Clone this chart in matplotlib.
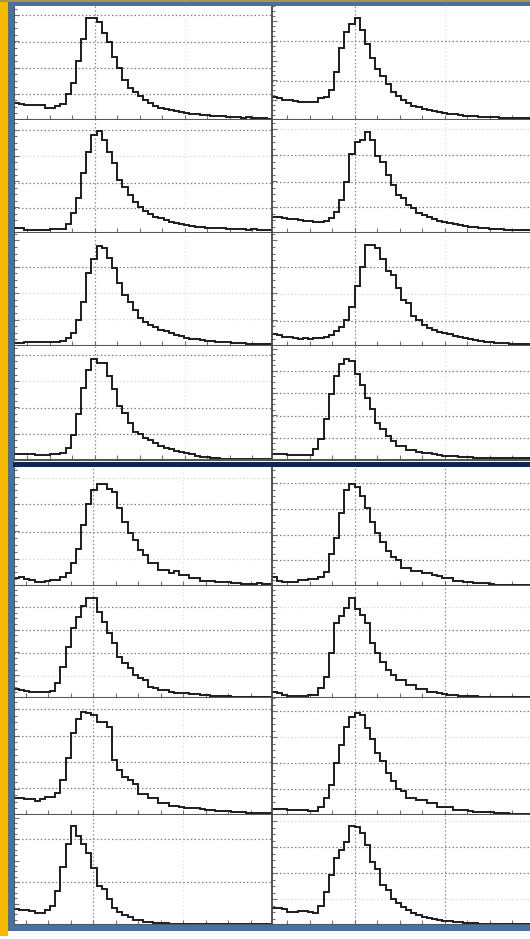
import numpy as np
import matplotlib
matplotlib.use("Agg")
import matplotlib.pyplot as plt
from matplotlib.patches import Rectangle
from matplotlib.ticker import MultipleLocator

# ---- histogram bin heights (50 bins per panel) ----
tl1 = [17,16,15,15,15,15,12,12,14,16, 26,37,59,81,102,102,98,87,78,63,
       52,40,32,28,24,20,17,14,12,11, 10,9,8,7,6,6,5,5,4,4, 4,3,3,3,2,3,2,2,2,1]
tr1 = [23,22,20,20,19,18,18,18,18,22, 23,30,48,72,88,96,102,90,76,62,
       51,44,36,28,24,20,17,14,13,11, 10,9,8,7,6,6,5,4,4,4, 3,3,3,3,2,2,2,2,2,2]
tl2 = [5,5,3,3,3,3,3,4,4,4, 9,20,35,60,81,98,102,93,81,70,
       53,46,38,31,26,22,19,16,15,13, 11,10,9,8,7,6,6,5,5,5, 5,4,4,4,4,3,4,3,3,3]
tr2 = [16,16,15,14,14,13,12,12,11,11, 12,15,21,33,51,79,91,93,101,93,
       77,71,58,48,38,35,28,25,20,18, 16,14,12,11,10,9,8,7,6,6, 5,5,4,4,4,3,3,3,3,3]
tl3 = [3,3,4,4,4,4,4,4,4,5, 8,13,26,44,73,87,100,98,88,78,
       63,51,44,36,28,24,21,19,16,15, 13,11,10,8,7,7,6,5,5,4, 4,4,3,3,3,2,2,2,2,2]
tr3 = [12,11,9,9,8,7,8,7,8,8, 9,11,15,19,26,39,60,79,101,101,
       98,87,75,71,58,46,43,30,26,21, 18,16,14,13,12,10,9,8,7,6, 5,4,4,3,3,3,2,2,2,2]
tl4 = [6,6,6,6,5,5,5,6,6,7, 12,25,46,72,90,101,97,97,84,71,
       54,47,37,28,26,22,20,17,14,12, 11,9,8,7,6,4,3,3,2,2, 1,1,1,1,1,1,1,1,1,1]
tr4 = [6,6,6,5,5,5,5,5,11,21, 41,66,84,96,101,99,86,75,62,51,
       37,31,24,19,14,14,10,10,8,7, 7,6,5,4,4,4,3,3,3,2, 2,2,2,2,2,2,2,2,2,2]
bl1 = [8,9,7,6,4,4,5,6,6,9, 13,23,37,61,82,96,102,102,97,94,
       78,64,53,46,36,31,23,23,16,16, 13,15,11,11,8,8,5,5,5,4, 4,4,3,3,2,2,2,3,2,2]
br1 = [9,5,4,4,4,6,6,7,7,9, 14,32,48,73,96,102,99,90,78,64,
       53,44,35,29,26,18,18,15,15,13, 13,11,10,8,8,5,5,4,4,3, 3,3,2,1,1,1,1,1,1,1]
bl2 = [9,8,7,6,6,6,6,7,15,31, 51,70,81,92,100,100,86,76,65,55,
       41,35,30,23,20,18,11,10,8,8, 6,5,5,5,4,4,3,3,2,2, 2,2,1,1,1,1,1,1,1,1]
br2 = [6,5,3,2,2,2,2,3,3,10, 21,45,75,82,90,100,89,83,75,55,
       45,36,28,23,18,18,13,13,9,9, 6,6,5,4,3,3,2,2,2,2, 1,1,1,1,1,1,1,1,1,1]
bl3 = [17,17,16,16,14,16,18,18,22,35, 57,82,96,103,102,100,93,93,88,55,
       45,38,35,31,21,21,17,17,12,12, 9,9,8,7,7,7,6,5,5,4, 4,4,3,3,3,2,2,2,2,2]
br3 = [6,6,6,5,5,5,5,4,4,8, 17,30,52,70,88,98,102,100,87,76,
       62,54,42,34,26,24,17,17,15,15, 12,12,8,8,8,5,5,5,4,3, 3,3,3,2,2,2,1,1,1,1]
bl4 = [16,15,15,14,12,12,15,19,34,58, 81,99,89,81,72,57,39,36,26,17,
       13,10,8,5,5,3,3,2,2,2, 1,1,1,1,1,1,1,1,1,1, 1,1,1,1,1,1,1,1,1,1]
br4 = [17,17,16,13,13,14,14,13,12,19, 33,50,67,75,83,99,98,92,80,63,
       56,40,35,26,22,18,15,12,10,8, 7,6,5,4,4,3,3,2,2,2, 1,1,1,1,1,1,1,1,1,1]

# y gridline levels per panel (major step, strong dotted levels, faint levels)
grid_tl1 = (26.2, [26, 52, 78, 105], [])
grid_tr1 = (19.8, [39, 79], [])
grid_tl2 = (25.8, [25, 50, 103], [77])
grid_tr2 = (26.0, [26, 51, 78], [104])
grid_tl3 = (26.4, [79], [27, 53])
grid_tr3 = (26.4, [25, 79], [52])
grid_tl4 = (26.3, [26, 52, 105], [79])
grid_tr4 = (22.3, [22, 44, 67, 89], [])
grid_bl1 = (27.3, [54, 82], [27, 108])
grid_br1 = (25.7, [26, 51, 77, 103], [])
grid_bl2 = (22.8, [45, 68, 91], [22])
grid_br2 = (22.8, [45, 68], [22, 91])
grid_bl3 = (26.5, [27, 53, 79, 106], [])
grid_br3 = (26.0, [26, 52, 104], [78])
grid_bl4 = (21.5, [43, 86], [])
grid_br4 = (26.0, [52, 78], [26, 104])

W, H = 530, 939
fig = plt.figure(figsize=(W / 100, H / 100), dpi=100)
fig.patch.set_facecolor('white')

TICK_PX = 22.5
COLS = {'L': (14, 272), 'R': (272, 530)}
FIRST_TICK = {('top', 'L'): 27, ('top', 'R'): 287, ('bot', 'L'): 25.5, ('bot', 'R'): 287}
ROWS = {'top': [(6, 120), (120, 233), (233, 346), (346, 460)],
        'bot': [(468, 586), (586, 698), (698, 815), (815, 925)]}

panels = [
    ('top', 'L', 0, tl1, grid_tl1), ('top', 'R', 0, tr1, grid_tr1),
    ('top', 'L', 1, tl2, grid_tl2), ('top', 'R', 1, tr2, grid_tr2),
    ('top', 'L', 2, tl3, grid_tl3), ('top', 'R', 2, tr3, grid_tr3),
    ('top', 'L', 3, tl4, grid_tl4), ('top', 'R', 3, tr4, grid_tr4),
    ('bot', 'L', 0, bl1, grid_bl1), ('bot', 'R', 0, br1, grid_br1),
    ('bot', 'L', 1, bl2, grid_bl2), ('bot', 'R', 1, br2, grid_br2),
    ('bot', 'L', 2, bl3, grid_bl3), ('bot', 'R', 2, br3, grid_br3),
    ('bot', 'L', 3, bl4, grid_bl4), ('bot', 'R', 3, br4, grid_br4),
]

DOT = (0, (1.2, 1.8))
for block, col, r, vals, (step, strong, faint) in panels:
    x0, x1 = COLS[col]
    y0, y1 = ROWS[block][r]
    ax = fig.add_axes([x0 / W, 1 - y1 / H, (x1 - x0) / W, (y1 - y0) / H])
    ax.set_facecolor('white')
    lo = -(FIRST_TICK[(block, col)] - x0) / TICK_PX
    hi = lo + (x1 - x0) / TICK_PX
    ax.set_xlim(lo, hi)
    ax.set_ylim(0, y1 - y0)
    for h in faint:
        ax.axhline(h, color='#dadada', lw=0.9, ls=DOT, zorder=0.5)
    for h in strong:
        ax.axhline(h, color='#808080', lw=0.9, ls=DOT, zorder=0.6)
    ax.axvline(3, color='#8c8c8c', lw=0.9, ls=DOT, zorder=0.6)
    if block == 'bot' and col == 'R':
        ax.axvline(7, color='#8c8c8c', lw=0.9, ls=DOT, zorder=0.6)
    else:
        ax.axvline(7, color='#e6e6e6', lw=0.9, ls=DOT, zorder=0.5)
    edges = np.linspace(lo, hi, len(vals) + 1)
    ax.stairs(vals, edges, color='#1c1c1c', lw=1.4, baseline=None, zorder=2)
    ax.xaxis.set_major_locator(MultipleLocator(1))
    ax.yaxis.set_major_locator(MultipleLocator(step))
    ax.yaxis.set_minor_locator(MultipleLocator(step / 4))
    ax.tick_params(axis='both', which='both', direction='in', color='#707070',
                   width=0.8, labelbottom=False, labelleft=False)
    ax.tick_params(axis='both', which='major', length=3.5)
    ax.tick_params(axis='y', which='minor', length=2)
    for s in ('top', 'right'):
        ax.spines[s].set_visible(False)
    ax.spines['bottom'].set_color('#555555')
    ax.spines['bottom'].set_linewidth(1.5)
    ax.spines['left'].set_color('#454545')
    ax.spines['left'].set_linewidth(1.3)


def band(x0, y0, x1, y1, color):
    fig.add_artist(Rectangle((x0 / W, 1 - y1 / H), (x1 - x0) / W, (y1 - y0) / H,
                             transform=fig.transFigure, facecolor=color,
                             edgecolor='none', zorder=10))


BLUE = '#4572a2'
band(0, 0, 8, 936, '#f5b900')          # yellow strip
band(8, 0, 13.5, 931, BLUE)             # left frame
band(8, 1.5, 530, 6, BLUE)              # top frame
band(0, 0, 530, 1.5, '#a8954a')         # thin top edge
band(8, 925, 530, 931, BLUE)            # bottom frame
band(13, 462, 530, 467, '#0f2557')      # divider between blocks

fig.savefig('out.png', dpi=100, facecolor='white')
